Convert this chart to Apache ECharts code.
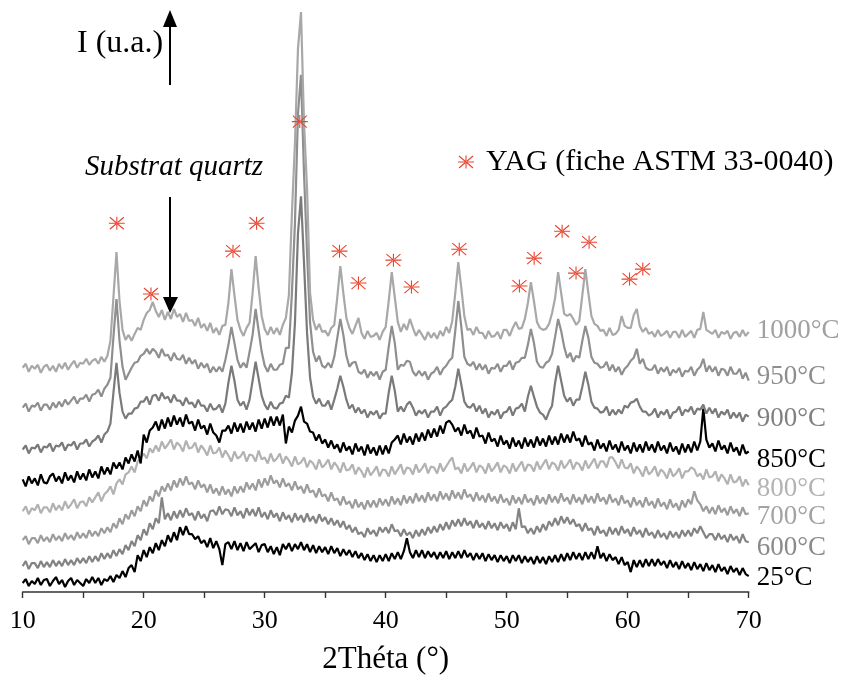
<!DOCTYPE html>
<html>
<head>
<meta charset="utf-8">
<script src="https://cdn.jsdelivr.net/npm/echarts@6/dist/echarts.min.js"></script>
<style>
html,body{margin:0;padding:0;background:#fff;}
#chart{width:846px;height:680px;}
</style>
</head>
<body>
<div id="chart"></div>
<script>
// 2-theta scan: start angle and step (degrees)
const thetaStart = 10;
const thetaStep = 0.25;

// Series names (annealing temperatures)
const seriesNames = ['25°C', '600°C', '700°C', '800°C', '850°C', '900°C', '950°C', '1000°C'];

// Intensities (arbitrary units, stacked offsets), one value per 0.25° from 10° to 70°
const i25 = [
 9,13,6,11, 8,14,7,12, 13,6,11,15, 8,12,5,11, 14,7,12,9, 6,13,9,15, 9,14,7,13, 11,16,10,17,
 14,21,15,24, 27,20,37,31, 42,35,45,39, 49,42,52,46, 57,50,60,52, 65,57,66,58, 58,53,56,49, 52,45,54,44,
 51,43,27,48, 50,43,51,42, 49,41,50,43, 46,49,40,47, 48,40,46,38, 45,37,48,43, 49,41,48,43, 50,42,48,40,
 47,39,46,40, 45,38,46,39, 44,36,43,37, 42,35,41,34, 39,32,38,31, 37,30,37,31, 38,31,39,33, 40,33,41,54,
 40,34,42,35, 42,34,41,35, 40,33,40,34, 41,33,40,34, 41,34,42,35, 39,32,39,33, 39,31,38,32, 37,30,37,31,
 36,29,37,31, 37,29,36,30, 35,28,36,29, 35,28,36,30, 37,30,38,31, 39,32,40,33, 39,32,40,33, 40,33,46,34,
 39,31,38,32, 35,28,35,27, 30,20,32,25, 32,25,33,26, 33,26,33,27, 31,24,32,25, 30,23,31,24, 29,22,30,23,
 28,21,29,22, 27,20,28,21, 25,18,26,20, 24,17,24,18, 16
];
const i600 = [
 26,31,23,29, 29,24,31,25, 30,25,32,26, 31,26,33,27, 32,27,34,29, 34,29,36,30, 36,31,39,33, 39,34,42,36,
 43,38,47,42, 51,46,57,52, 63,57,69,63, 74,69,95,73, 79,72,81,74, 82,75,84,77, 79,72,81,74, 78,71,81,82,
 77,86,78,83, 82,76,85,77, 81,74,84,77, 83,76,85,75, 80,73,82,75, 79,71,80,73, 77,70,79,72, 77,70,79,71,
 76,69,78,71, 75,68,74,67, 72,65,71,63, 67,60,65,58, 60,55,64,58, 62,56,65,60, 65,59,68,61, 62,56,63,57,
 60,54,62,56, 63,57,65,59, 66,60,68,62, 70,63,72,66, 73,66,74,67, 71,64,72,65, 69,63,71,64, 69,62,70,64,
 68,61,70,63, 84,65,66,59, 64,58,66,60, 68,62,71,66, 74,67,76,69, 75,68,73,66, 68,61,69,62, 64,57,66,59,
 62,56,65,58, 64,57,66,59, 63,56,65,58, 62,55,64,57, 60,54,62,55, 59,53,61,55, 60,54,62,56, 62,56,64,59,
 66,60,54,58, 58,52,59,53, 57,50,58,52, 56,49,58,51, 50
];
const i700 = [
 52,56,48,54, 54,49,57,51, 55,50,58,52, 56,51,59,53, 57,52,60,54, 59,54,62,56, 61,56,64,59, 65,60,69,64,
 74,68,78,73, 82,76,86,81, 92,86,96,91, 102,96,106,101, 109,102,112,105, 114,107,116,108, 110,103,112,105, 108,100,108,99,
 104,97,106,98, 103,96,106,99, 106,100,110,103, 109,102,113,105, 114,107,117,109, 112,105,114,106, 109,102,111,103, 106,99,108,100,
 102,95,104,96, 98,91,100,92, 94,87,96,88, 91,84,93,85, 90,83,92,85, 92,85,94,87, 93,86,96,88, 94,87,97,89,
 96,89,99,91, 97,90,100,92, 98,91,101,93, 99,92,102,94, 100,93,103,95, 98,91,100,92, 97,90,99,91, 96,89,98,90,
 94,87,97,89, 95,88,98,90, 94,87,97,89, 95,88,98,90, 96,89,99,91, 95,88,98,90, 95,88,98,90, 96,89,99,91,
 95,88,98,90, 94,87,97,89, 92,85,95,87, 92,85,95,87, 91,84,94,86, 90,83,93,85, 89,82,92,85, 93,88,101,92,
 88,81,86,79, 85,78,87,80, 84,77,86,79, 83,76,85,78, 79
];
const i800 = [
 81,86,78,84, 82,88,79,85, 85,80,89,82, 87,82,91,84, 88,93,84,90, 91,86,95,90, 95,100,91,98, 101,106,98,109,
 113,108,118,120, 126,120,131,134, 139,134,144,140, 147,141,151,144, 148,153,143,150, 147,141,152,144, 145,150,140,147, 143,137,147,139,
 140,145,135,142, 137,131,141,134, 136,141,131,138, 137,131,142,133, 135,129,139,131, 134,139,129,136, 132,126,136,128, 130,135,125,132,
 129,123,133,125, 128,133,123,130, 126,120,130,122, 123,128,118,125, 121,115,125,117, 121,126,116,123, 122,116,126,118, 123,128,118,125,
 124,118,128,120, 124,129,119,126, 125,119,129,121, 126,131,135,123, 125,119,129,121, 125,130,120,127, 125,119,129,121, 125,130,120,127,
 125,119,129,121, 126,131,121,128, 127,121,131,123, 128,133,123,130, 128,122,132,124, 128,133,123,130, 128,122,132,124, 129,134,124,131,
 131,125,135,135, 130,124,133,125, 124,129,119,126, 122,116,126,118, 121,126,116,123, 120,114,124,116, 119,124,114,121, 121,125,123,116,
 119,113,123,115, 116,121,111,118, 114,108,118,110, 111,116,106,113, 107
];
const i850 = [
 113,106,116,109, 114,107,118,110, 109,116,119,111, 116,109,120,112, 117,110,121,113, 119,112,123,115, 121,114,126,118, 125,118,130,124,
 130,123,135,129, 138,131,142,129, 158,150,162,165, 171,162,173,164, 175,166,177,168, 175,166,178,169, 171,162,173,164, 167,158,169,160,
 157,150,162,162, 167,159,170,161, 169,160,171,163, 170,161,173,164, 174,165,176,167, 176,167,178,149, 166,160,172,177, 186,171,169,161,
 160,152,158,149, 153,145,152,144, 148,140,150,142, 146,138,149,141, 146,137,148,139, 145,137,147,138, 147,139,150,153, 157,148,159,150,
 156,148,159,151, 160,152,163,155, 164,156,167,159, 170,172,168,161, 165,157,168,159, 162,154,165,156, 157,149,160,151, 154,146,157,148,
 152,144,155,146, 152,144,155,146, 153,145,156,147, 154,146,157,148, 156,148,159,150, 158,150,161,152, 154,146,157,148, 150,142,153,144,
 149,141,152,143, 148,140,151,142, 147,139,150,141, 148,140,151,142, 148,140,151,142, 147,139,150,141, 146,138,149,140, 148,140,151,142,
 151,184,153,145, 149,141,152,143, 147,139,150,141, 145,137,148,139, 141
];
const i900 = [
 143,147,139,145, 144,148,140,146, 145,149,141,147, 146,150,142,148, 147,151,143,149, 149,153,146,151, 153,157,150,158, 161,169,200,230,
 200,181,174,179, 179,184,185,191, 191,196,188,197, 198,192,200,194, 196,190,198,192, 192,187,195,189, 190,185,193,187, 187,181,189,183,
 184,188,180,189, 210,227,212,193, 187,191,183,193, 212,231,214,197, 188,183,191,185, 184,189,190,197, 195,220,270,360, 397,330,260,215,
 196,189,194,187, 187,192,183,193, 204,217,206,193, 184,188,180,185, 179,183,175,181, 178,182,174,179, 179,200,217,202, 181,186,181,188,
 191,185,177,182, 179,183,175,181, 181,186,177,184, 186,190,193,206, 224,208,191,186, 185,189,181,187, 179,184,175,181, 178,183,174,180,
 181,186,177,184, 185,189,181,196, 207,196,186,180, 178,173,181,187, 210,227,212,197, 191,195,187,193, 193,206,221,208, 191,185,184,180,
 181,186,177,183, 178,183,179,187, 185,190,191,194, 186,181,181,177, 179,184,175,181, 178,183,174,180, 181,186,177,183, 181,186,178,184,
 183,188,179,185, 179,184,175,181, 178,183,174,180, 175,180,171,178, 176
];
const i950 = [
 185,189,181,187, 186,190,182,188, 188,183,190,185, 191,186,193,188, 192,196,189,194, 194,198,191,198, 199,203,196,204, 208,215,256,294,
 252,226,213,219, 225,230,231,237, 239,244,239,244, 241,235,244,237, 238,232,240,234, 233,238,229,235, 229,233,224,230, 225,229,220,226,
 221,226,221,233, 248,266,250,233, 225,230,225,241, 258,284,262,241, 227,221,229,223, 223,228,229,245, 245,300,370,480, 519,420,340,270,
 241,231,237,227, 225,230,225,236, 255,274,258,237, 226,230,231,221, 219,223,215,221, 217,221,213,221, 223,246,267,250, 223,228,227,232,
 231,221,217,222, 217,221,213,219, 221,226,218,224, 227,232,235,262, 292,266,236,229, 227,231,223,229, 223,228,219,225, 224,229,221,227,
 227,232,223,230, 231,235,235,248, 264,250,231,226, 225,230,232,239, 256,274,262,246, 235,240,231,237, 235,252,267,255, 236,230,229,225,
 226,231,222,228, 221,226,218,224, 227,232,235,244, 229,234,225,223, 223,228,219,225, 221,226,217,223, 220,225,216,222, 221,226,217,223,
 226,234,221,227, 221,226,217,224, 223,217,226,219, 219,224,214,220, 212
];
const i1000 = [
 225,229,221,227, 224,228,220,226, 228,222,227,221, 229,224,230,223, 228,232,225,230, 229,234,228,232, 234,229,236,231, 237,252,296,341,
 292,263,253,258, 252,259,265,263, 273,280,283,291, 282,276,283,273, 281,274,284,276, 279,271,280,272, 273,267,275,265, 269,262,270,260,
 265,258,267,268, 290,324,298,273, 263,257,265,270, 300,337,305,277, 264,258,266,259, 265,258,268,275, 298,380,450,545, 582,470,405,300,
 273,263,269,261, 262,257,265,268, 296,327,300,275, 265,259,267,275, 260,254,262,256, 257,260,253,261, 266,292,321,296, 271,261,269,263,
 274,265,257,263, 258,253,261,255, 260,254,262,257, 266,260,272,300, 331,305,277,263, 264,258,266,260, 260,254,262,256, 257,261,254,263,
 263,257,265,271, 264,265,274,290, 311,292,271,265, 263,264,269,280, 295,321,300,279, 277,279,274,268, 272,298,324,300, 277,269,267,262,
 263,257,265,258, 259,263,277,267, 265,265,278,284, 267,261,265,259, 261,256,263,257, 259,262,255,261, 261,255,263,256, 259,262,255,263,
 264,281,263,261, 259,263,255,261, 259,262,254,260, 261,256,263,257, 261
];

// YAG reference peak markers (2θ, intensity position)
const yagTheta = [17.78, 20.6, 27.38, 29.33, 32.9, 36.18, 37.75, 40.64, 42.13, 46.08, 51.05, 52.27, 54.58, 55.73, 56.81, 60.15, 61.25];
const yagLevel = [370, 299, 342, 370, 472, 342, 310, 333, 306, 344, 307, 335, 362, 320, 351, 314, 324];

const xTicks = [10, 20, 30, 40, 50, 60, 70];

const curves = [i25, i600, i700, i800, i850, i900, i950, i1000];
const lineColors = ['#000000', '#838383', '#9c9c9c', '#b2b2b2', '#000000', '#7a7a7a', '#8f8f8f', '#a8a8a8'];
const labelColors = ['#000000', '#8a8a8a', '#a3a3a3', '#b3b3b3', '#000000', '#808080', '#8e8e8e', '#a0a0a0'];
const labelDy = [2, 6, 4, 4, 8, 2, -4, -1];

const FONT = '"Liberation Serif", "Times New Roman", serif';

function toPairs(arr) {
  return arr.map((v, i) => [thetaStart + i * thetaStep, v]);
}

const series = curves.map((arr, k) => ({
  name: seriesNames[k],
  type: 'line',
  data: toPairs(arr),
  showSymbol: false,
  symbol: 'none',
  silent: true,
  lineStyle: { color: lineColors[k], width: 2.2 },
  itemStyle: { color: lineColors[k] },
  endLabel: {
    show: true,
    formatter: seriesNames[k],
    distance: 8,
    offset: [0, labelDy[k]],
    color: labelColors[k],
    fontFamily: FONT,
    fontSize: 27
  },
  z: 2 + k
}));

const starPath = 'path://M0,11.9 L32,11.9 L32,14.1 L0,14.1 Z M14.9,0 L17.1,0 L17.1,26 L14.9,26 Z ' +
  'M1.3,1.8 L2.7,0.2 L30.7,24.2 L29.3,25.8 Z M30.7,1.8 L29.3,0.2 L1.3,24.2 L2.7,25.8 Z';

series.push({
  name: 'YAG (fiche ASTM 33-0040)',
  type: 'scatter',
  data: yagTheta.map((t, i) => [t, yagLevel[i]]),
  symbol: starPath,
  symbolSize: [16, 13],
  itemStyle: { color: '#e8432d', opacity: 1 },
  silent: true,
  z: 20
});

const chart = echarts.init(document.getElementById('chart'), null, { renderer: 'canvas' });
chart.setOption({
  animation: false,
  backgroundColor: '#ffffff',
  grid: { left: 22.7, right: 97.3, top: 10, bottom: 86, containLabel: false },
  legend: {
    data: ['YAG (fiche ASTM 33-0040)'],
    left: 453,
    top: 142,
    itemWidth: 16,
    itemHeight: 13,
    selectedMode: false,
    textStyle: { fontFamily: FONT, fontSize: 30, color: '#000', padding: [0, 0, 0, 7] }
  },
  xAxis: {
    type: 'value',
    min: 10,
    max: 70,
    interval: 10,
    name: '2Théta (°)',
    nameLocation: 'middle',
    nameGap: 52,
    nameTextStyle: { fontFamily: FONT, fontSize: 31, color: '#000' },
    axisLine: { show: true, onZero: false, lineStyle: { color: '#333', width: 1.6 } },
    axisTick: { show: true, length: 6, lineStyle: { color: '#333', width: 1.4 } },
    minorTick: { show: true, splitNumber: 2, length: 6, lineStyle: { color: '#333', width: 1.4 } },
    splitLine: { show: false },
    axisLabel: {
      fontFamily: FONT, fontSize: 26, color: '#000', margin: 16,
      formatter: v => (xTicks.indexOf(v) >= 0 ? String(v) : '')
    }
  },
  yAxis: {
    type: 'value',
    min: 0,
    max: 584,
    show: false
  },
  series: series,
  graphic: [
    { type: 'text', left: 77, top: 28, style: { text: 'I (u.a.)', font: '32px ' + FONT, fill: '#000' } },
    { type: 'line', shape: { x1: 170, y1: 85, x2: 170, y2: 24 }, style: { stroke: '#000', lineWidth: 2 } },
    { type: 'polygon', shape: { points: [[163, 27], [177, 27], [170, 10]] }, style: { fill: '#000' } },
    { type: 'text', left: 85, top: 153, style: { text: 'Substrat quartz', font: 'italic 29px ' + FONT, fill: '#000' } },
    { type: 'line', shape: { x1: 170, y1: 197, x2: 170, y2: 299 }, style: { stroke: '#000', lineWidth: 2 } },
    { type: 'polygon', shape: { points: [[163, 297], [178, 297], [170, 313]] }, style: { fill: '#000' } }
  ]
});
</script>
</body>
</html>
